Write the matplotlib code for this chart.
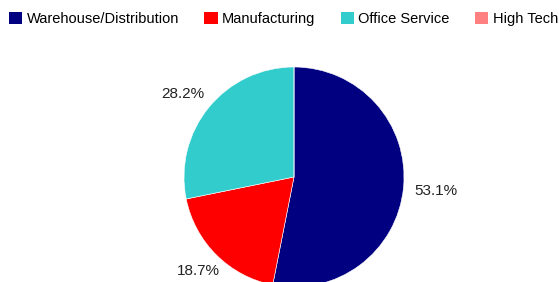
import matplotlib
matplotlib.use("Agg")
import matplotlib.pyplot as plt
from matplotlib.patches import Patch

categories = ["Warehouse/Distribution", "Manufacturing", "Office Service", "High Tech"]
values = [53.1, 18.7, 28.2, 0.0]
colors = ["#000080", "#FF0000", "#33CCCC", "#FF8080"]

plt.rcParams['font.family'] = ['Liberation Sans', 'DejaVu Sans']

W, H = 559, 282
fig = plt.figure(figsize=(W / 100, H / 100), dpi=100)
cx, cy, r = 294, 177, 110
ax = fig.add_axes([(cx - r) / W, (H - cy - r) / H, 2 * r / W, 2 * r / H])

wedges, texts, autotexts = ax.pie(
    values, colors=colors, startangle=90, counterclock=False, radius=1,
    autopct=lambda p: f"{p:.1f}%" if p > 0 else "", pctdistance=1.3,
    wedgeprops=dict(linewidth=0.4, edgecolor='white'),
    textprops=dict(fontsize=11, color='#222222'))
ax.set_xlim(-1, 1)
ax.set_ylim(-1, 1)
ax.set_aspect('equal')
ax.axis('off')
for w in wedges:
    w.set_clip_on(False)
for t in autotexts:
    t.set_clip_on(False)
# pull the bottom label slightly inward so it stays inside the figure
x, y = autotexts[1].get_position()
autotexts[1].set_position((x * 1.23 / 1.3, y * 1.2 / 1.3))
# the upper-left label sits a little lower in the reference
x, y = autotexts[2].get_position()
autotexts[2].set_position((x, y * 1.2 / 1.3))

handles = [Patch(facecolor=c, edgecolor='none') for c in colors]
fig.legend(handles, categories, loc='upper left', bbox_to_anchor=(-0.002, 0.993),
           ncol=4, frameon=False, fontsize=10.5, handlelength=0.9, handleheight=0.9,
           handletextpad=0.3, columnspacing=1.75, borderaxespad=0.3)

fig.savefig("out.png", dpi=100)
